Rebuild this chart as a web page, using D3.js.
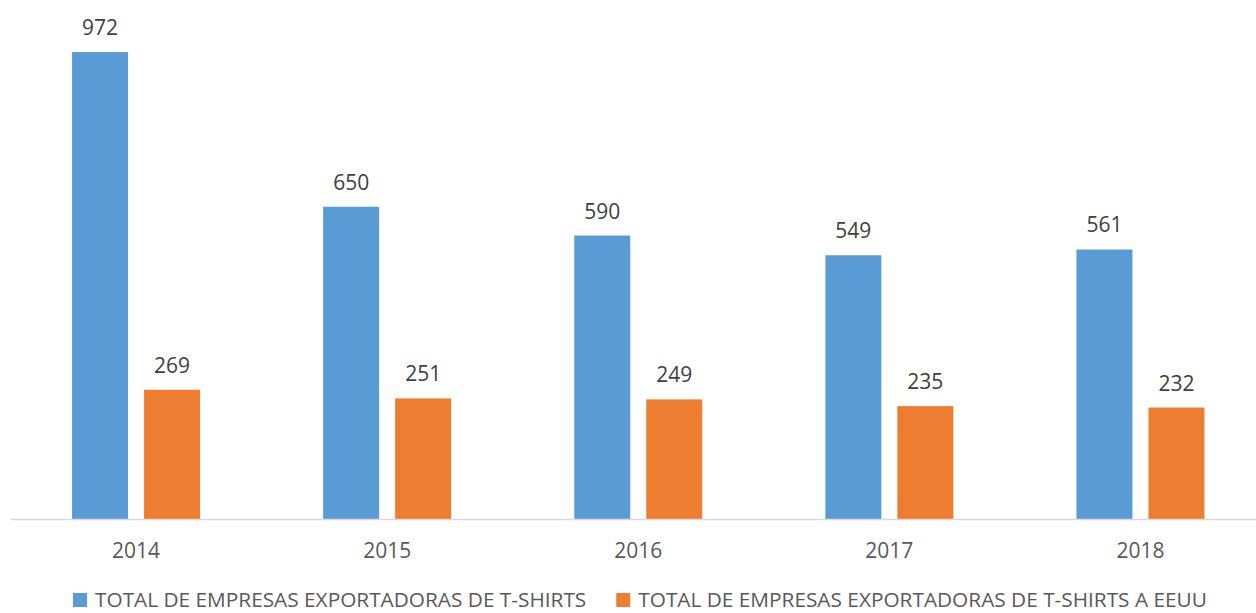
<!DOCTYPE html>
<html>
<head>
<meta charset="utf-8">
<script src="https://cdn.jsdelivr.net/npm/d3@7"></script>
<style>
  body { margin: 0; background: #fff; }
  text { font-family: "Open Sans", "Segoe UI", sans-serif; }
</style>
</head>
<body>
<svg id="chart" width="1256" height="613"></svg>
<script>
var years = ['2014', '2015', '2016', '2017', '2018'];
var seriesNames = ['TOTAL DE EMPRESAS EXPORTADORAS DE T-SHIRTS', 'TOTAL DE EMPRESAS EXPORTADORAS DE T-SHIRTS A EEUU'];
var totalExporters = [972, 650, 590, 549, 561];
var usExporters = [269, 251, 249, 235, 232];
var colors = ['#5B9BD5', '#ED7D31'];

var svg = d3.select('#chart');

var x = d3.scaleBand().domain(years).range([10.5, 1266]);
var y = d3.scaleLinear().domain([0, 1000]).range([519, 38.6]);

var barW = 56, barGap = 16;
var series = [totalExporters, usExporters];

// bars + value labels
series.forEach(function(values, s) {
  var g = svg.append('g').attr('class', 'series' + s);
  var offset = s === 0 ? -(barW + barGap / 2) : barGap / 2;

  g.selectAll('rect')
    .data(values)
    .enter().append('rect')
    .attr('x', (d, i) => x(years[i]) + x.bandwidth() / 2 + offset)
    .attr('y', d => y(d))
    .attr('width', barW)
    .attr('height', d => y(0) - y(d))
    .style('fill', colors[s]);

  g.selectAll('text')
    .data(values)
    .enter().append('text')
    .attr('x', (d, i) => x(years[i]) + x.bandwidth() / 2 + offset + barW / 2)
    .attr('y', d => y(d) - 17)
    .attr('text-anchor', 'middle')
    .style('font-size', '21px')
    .style('fill', '#404040')
    .text(d => d);
});

// category axis
var xAxis = svg.append('g')
  .attr('transform', 'translate(0,' + y(0) + ')')
  .call(d3.axisBottom(x).tickSize(0).tickPadding(24));
xAxis.select('.domain').attr('stroke', '#D9D9D9').attr('stroke-width', 1.5);
xAxis.selectAll('text')
  .attr('dy', '0.71em')
  .style('font-size', '21px')
  .style('font-family', '"Open Sans", sans-serif')
  .style('fill', '#595959');

// legend
var legend = svg.append('g').attr('class', 'legend');
var lx = 73;
seriesNames.forEach(function(name, s) {
  legend.append('rect')
    .attr('x', lx).attr('y', 593)
    .attr('width', 14).attr('height', 14)
    .style('fill', colors[s]);
  var t = legend.append('text')
    .attr('x', lx + 22).attr('y', 607)
    .style('font-size', '20.8px')
    .style('fill', '#595959')
    .text(name);
  lx = lx + 22 + t.node().getComputedTextLength() + 30;
});
</script>
</body>
</html>
